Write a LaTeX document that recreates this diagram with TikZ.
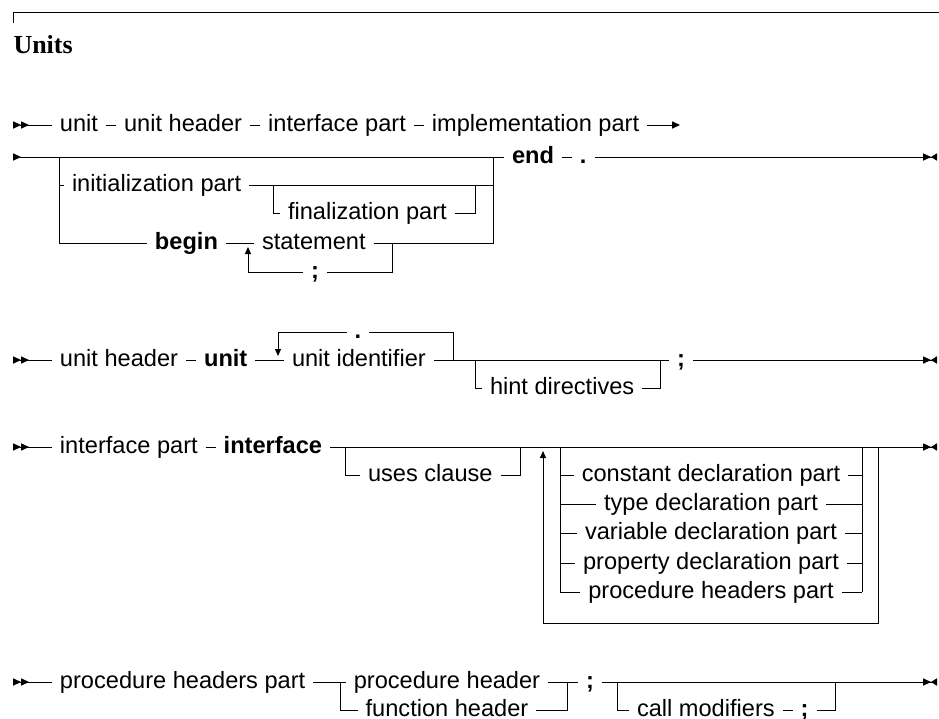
\documentclass[tikz,border=0pt]{standalone}
\usepackage{fontspec}
\setmainfont{Liberation Sans}
\newfontfamily\titlefont{Liberation Serif}
\usetikzlibrary{arrows.meta,positioning}
\tikzset{
  nt/.style={inner sep=0pt, outer sep=4pt, text height=8.5pt, text depth=2.4pt,
    font=\fontsize{11.8}{14}\selectfont},
  kw/.style={nt, font=\fontsize{11.8}{14}\selectfont\bfseries},
  bgn/.style={{Triangle[reversed,length=4pt,width=3.6pt]Triangle[reversed,length=4pt,width=3.6pt]}-},
  cin/.style={{Triangle[reversed,length=4pt,width=3.6pt]}-},
  cont/.style={-{Triangle[length=4pt,width=3.6pt]}},
  fin/.style={-{Triangle[length=4pt,width=3.6pt]Triangle[reversed,length=3pt,width=3.6pt]}},
  loopup/.style={-{Triangle[length=3.5pt,width=3pt]}}
}
\begin{document}
\begin{tikzpicture}[x=0.5pt,y=-0.5pt,line width=0.5pt]
\useasboundingbox (0,0) rectangle (939,719);
% heading
\coordinate (tl) at (13,23);
\draw (tl) -- (13,12) -- (939,12);
\node[anchor=base west, inner sep=0pt, font=\titlefont\fontsize{13}{15}\selectfont\bfseries] (title) at (13,53) {Units};

% unit
\coordinate (s1) at (13,125);
\node[nt, anchor=west] (unit) at (52,125) {unit};
\node[nt, right=5pt of unit] (uhdr) {unit header};
\node[nt, right=5pt of uhdr] (ipart) {interface part};
\node[nt, right=5pt of ipart] (impl) {implementation part};
\coordinate (e1) at (680,125);
\draw[bgn] (s1) -- (unit);
\draw (unit) -- (uhdr) -- (ipart) -- (impl);
\draw[cont] (impl) -- (e1);

\coordinate (s2) at (13,157);
\coordinate (j1) at (59,157);
\coordinate (j2) at (493,157);
\node[kw, anchor=west] (end) at (504,157) {end};
\node[kw, right=5pt of end] (dot1) {.};
\coordinate (e2) at (937,157);
\draw[cin] (s2) -- (end);
\draw (end) -- (dot1);
\draw[fin] (dot1) -- (e2);
\node[nt, anchor=west] (init) at (64,185) {initialization part};
\node[nt, anchor=west] (final) at (280,213) {finalization part};
\node[kw, anchor=west] (begin) at (147,243) {begin};
\node[nt, anchor=west] (stmt) at (254,243) {statement};
\node[kw] (semi1) at (315,272) {;};
\coordinate (j3) at (273,185);
\coordinate (j4) at (475,185);
\coordinate (j5) at (248,247);
\coordinate (j6) at (392,243);
\draw (j1) |- (begin);
\draw (j1 |- init) -- (init);
\draw (init) -| (j2);
\draw (j3) |- (final);
\draw (final) -| (j4);
\draw (begin) -- (stmt);
\draw (stmt) -| (j2);
\draw (j6) |- (semi1);
\draw[loopup] (semi1) -| (j5);

% unit header
\coordinate (s3) at (13,360);
\node[nt, anchor=west] (uhdr2) at (52,360) {unit header};
\node[kw, right=5pt of uhdr2] (kwunit) {unit};
\node[nt, anchor=west] (uid) at (284,360) {unit identifier};
\node[kw] (dot2) at (358,332) {.};
\node[nt, anchor=west] (hint) at (482,388) {hint directives};
\node[kw, anchor=west] (semi2) at (669,360) {;};
\coordinate (j7) at (278,356);
\coordinate (j8) at (453,360);
\coordinate (j9) at (475,360);
\coordinate (j10) at (660,360);
\coordinate (e3) at (937,360);
\draw[bgn] (s3) -- (uhdr2);
\draw (uhdr2) -- (kwunit) -- (uid) -- (semi2);
\draw (j8) |- (dot2);
\draw[loopup] (dot2) -| (j7);
\draw (j9) |- (hint);
\draw (hint) -| (j10);
\draw[fin] (semi2) -- (e3);

% interface part
\coordinate (s4) at (13,447);
\node[nt, anchor=west] (ipart2) at (52,447) {interface part};
\node[kw, right=5pt of ipart2] (kwif) {interface};
\coordinate (e4) at (937,447);
\draw[bgn] (s4) -- (ipart2);
\draw (ipart2) -- (kwif);
\draw[fin] (kwif) -- (e4);
\node[nt, anchor=west] (uses) at (360,475) {uses clause};
\coordinate (j11) at (345,447);
\coordinate (j12) at (520,447);
\draw (j11) |- (uses);
\draw (uses) -| (j12);
\coordinate (bl) at (560,447);
\coordinate (br) at (862,447);
\foreach \t/\y [count=\i] in {constant declaration part/475, type declaration part/504,
    variable declaration part/533, property declaration part/563, procedure headers part/592} {
  \node[nt] (decl\i) at (711,\y) {\t};
  \draw (bl |- decl\i) -- (decl\i) -- (br |- decl\i);
}
\draw (bl) -- (bl |- decl5);
\draw (br) -- (br |- decl5);
\coordinate (j13) at (878,447);
\coordinate (lp) at (878,623);
\coordinate (j14) at (543,451);
\draw[loopup] (j13) -- (lp) -| (j14);

% procedure headers part
\coordinate (s5) at (13,682);
\node[nt, anchor=west] (php) at (52,682) {procedure headers part};
\node[nt] (phdr) at (447,682) {procedure header};
\node[nt] (fhdr) at (447,710) {function header};
\node[kw, anchor=west] (semi3) at (578,682) {;};
\node[nt, anchor=west] (callm) at (629,710) {call modifiers};
\node[kw, right=5pt of callm] (semi4) {;};
\coordinate (j15) at (340,682);
\coordinate (j16) at (567,682);
\coordinate (j17) at (617,682);
\coordinate (j18) at (835,682);
\coordinate (e5) at (937,682);
\draw[bgn] (s5) -- (php);
\draw (php) -- (phdr) -- (semi3);
\draw[fin] (semi3) -- (e5);
\draw (j15) |- (fhdr);
\draw (fhdr) -| (j16);
\draw (j17) |- (callm);
\draw (callm) -- (semi4) -| (j18);
\end{tikzpicture}
\end{document}
